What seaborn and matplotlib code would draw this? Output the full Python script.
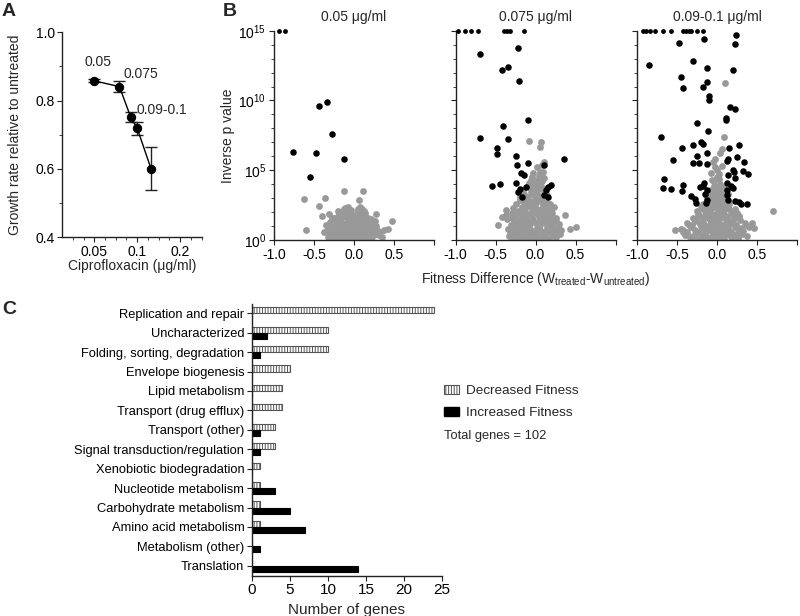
import numpy as np
import pandas as pd
import matplotlib
matplotlib.use("Agg")
import matplotlib.pyplot as plt
import seaborn as sns
from matplotlib.patches import Patch

# ---------------- data ----------------
# Panel A
conc = [0.05, 0.075, 0.09, 0.1, 0.125]
growth = [0.858, 0.841, 0.752, 0.719, 0.601]
growth_err = [0.004, 0.015, 0.016, 0.019, 0.064]
dose_labels = ["0.05", "0.075", "0.09-0.1"]
dose_label_x = [0.053, 0.0806, 0.0995]
dose_label_y = [0.913, 0.878, 0.772]

# Panel B (x = fitness difference, logp = log10 of inverse p value)
panel_titles = ["0.05 \u03bcg/ml", "0.075 \u03bcg/ml", "0.09-0.1 \u03bcg/ml"]

b1_top_x = [-0.94, -0.86]
b1_sig_x = [-0.44, -0.34, -0.27, -0.76, -0.47, -0.125, -0.55]
b1_sig_logp = [9.63, 9.88, 7.6, 6.29, 6.24, 5.79, 4.52]
b1_gray_x = [-0.13, 0.11, -0.63, -0.36, -0.44, 0.06, -0.60, 0.47, 0.28, -0.31, -0.40, 0.43, 0.38,
             -0.30, -0.24, -0.19, -0.15, -0.11, -0.08, -0.05, -0.02, 0.0, 0.02, 0.05, 0.08, 0.11, 0.14, 0.18, 0.22, 0.27,
             -0.37, -0.33, -0.28, -0.23, -0.20, -0.16, -0.12, -0.09, -0.06, -0.03, 0.03, 0.06, 0.10, 0.13, 0.16, 0.20, 0.24, 0.29, 0.33,
             -0.35, -0.30, -0.26, -0.21, -0.17, -0.14, -0.10, -0.07, -0.04, 0.04, 0.07, 0.10, 0.12, 0.15, 0.19, 0.23, 0.27,
             -0.27, -0.20, -0.16, -0.13, -0.10, -0.08, -0.05, 0.05, 0.08, 0.10, 0.13, 0.17, 0.21,
             -0.14, -0.11, -0.09, -0.07, 0.05, 0.07, 0.09, 0.12,
             -0.22, -0.18, -0.12, -0.06, -0.02, 0.02, 0.06, 0.09, 0.15, 0.18,
             -0.29, -0.25, -0.21, -0.17, -0.13, -0.09, -0.05, -0.01, 0.03, 0.07, 0.11, 0.15, 0.19, 0.23,
             -0.27, -0.23, -0.18, -0.14, -0.10, -0.06, -0.03, 0.0, 0.04, 0.08, 0.12, 0.16, 0.21, 0.25, 0.31,
             -0.12, -0.08, -0.04, 0.01, 0.06, 0.10, 0.14,
             -0.33, -0.31, -0.25, 0.26, 0.35, -0.20]
b1_gray_logp = [3.5, 3.5, 2.94, 3.0, 2.46, 2.85, 0.7, 1.36, 1.84, 1.84, 1.7, 0.77, 0.75,
                0.3, 0.2, 0.35, 0.15, 0.25, 0.1, 0.3, 0.05, 0.0, 0.12, 0.22, 0.3, 0.18, 0.27, 0.35, 0.2, 0.4,
                0.6, 0.85, 0.55, 0.75, 0.9, 0.6, 0.8, 0.7, 0.55, 0.65, 0.6, 0.75, 0.85, 0.55, 0.8, 0.65, 0.9, 0.7, 0.6,
                1.1, 1.3, 1.0, 1.2, 1.35, 1.05, 1.25, 1.4, 1.15, 1.1, 1.3, 1.2, 1.4, 1.05, 1.25, 1.15, 1.0,
                1.6, 1.75, 1.55, 1.85, 1.65, 1.9, 1.6, 1.7, 1.55, 1.85, 1.65, 1.6, 1.5,
                2.1, 2.3, 2.0, 2.4, 2.2, 2.35, 2.05, 2.1,
                0.45, 1.45, 0.95, 1.0, 0.4, 0.45, 1.0, 1.5, 0.45, 1.0,
                0.45, 0.9, 0.25, 1.1, 0.5, 1.6, 0.9, 0.6, 0.95, 0.15, 0.6, 1.15, 0.1, 0.75,
                0.15, 1.4, 0.7, 0.3, 2.0, 1.3, 1.8, 1.2, 1.95, 1.05, 0.5, 0.25, 0.95, 0.55, 0.35,
                2.25, 0.45, 2.15, 1.6, 1.45, 2.25, 1.9,
                0.25, 0.4, 1.55, 1.35, 0.25, 2.1]

b2_top_x = [-0.97, -0.88, -0.81, -0.72, -0.40, -0.36, -0.32, -0.15]
b2_sig_x = [-0.22, -0.70, -0.35, -0.425, -0.21, -0.10, -0.41, -0.70, -0.35, -0.48, -0.48, -0.24, -0.23, -0.10,
            -0.18, -0.14, 0.11, 0.35, -0.54, -0.44, -0.24, -0.125, -0.20, -0.225, -0.17, 0.19, 0.16, 0.125, 0.15, 0.10]
b2_sig_logp = [13.75, 13.34, 12.39, 12.2, 11.36, 8.6, 8.18, 7.32, 7.22, 6.62, 6.19, 6.05, 5.4, 5.5,
               4.78, 4.66, 5.38, 5.81, 3.9, 4.02, 4.11, 3.82, 3.63, 3.44, 3.1, 3.95, 3.78, 3.59, 3.1, 3.2]
b2_gray_x = [-0.33, -0.28, -0.24, -0.20, -0.16, -0.12, -0.08, -0.04, 0.0, 0.04, 0.08, 0.12, 0.16, 0.20, 0.25, 0.30,
             -0.35, -0.30, -0.26, -0.22, -0.18, -0.14, -0.10, -0.06, -0.02, 0.02, 0.06, 0.10, 0.14, 0.18, 0.22, 0.26, 0.32, 0.43, 0.50,
             -0.36, -0.31, -0.27, -0.23, -0.19, -0.15, -0.11, -0.07, -0.03, 0.01, 0.05, 0.09, 0.13, 0.17, 0.21, 0.25, 0.29,
             -0.42, -0.375, -0.30, -0.25, -0.20, -0.16, -0.12, -0.08, -0.04, 0.0, 0.04, 0.08, 0.12, 0.16, 0.20, 0.26, 0.37,
             -0.375, -0.28, -0.22, -0.17, -0.13, -0.09, -0.05, -0.01, 0.03, 0.07, 0.11, 0.15, 0.19, 0.23,
             -0.24, -0.19, -0.15, -0.11, -0.07, -0.03, 0.01, 0.05, 0.09, 0.13, 0.17,
             -0.20, -0.14, -0.10, -0.06, -0.02, 0.02, 0.06, 0.10, 0.14,
             -0.16, -0.09, -0.05, -0.01, 0.03, 0.07, 0.11,
             -0.08, -0.04, 0.0, 0.04, 0.08, 0.10,
             -0.03, 0.02, 0.05, 0.08, 0.10,
             -0.085, 0.07, 0.06, -0.475,
             -0.32, -0.27, -0.21, -0.17, -0.13, -0.09, -0.05, -0.01, 0.03, 0.07, 0.11, 0.15, 0.19, 0.23, 0.28,
             -0.29, -0.25, -0.20, -0.15, -0.11, -0.07, -0.03, 0.02, 0.06, 0.10, 0.14, 0.18, 0.22,
             -0.18, -0.12, -0.08, -0.04, 0.0, 0.04, 0.08, 0.12, 0.16,
             -0.06, -0.02, 0.03, 0.06, 0.09]
b2_gray_logp = [0.3, 0.15, 0.4, 0.2, 0.35, 0.1, 0.25, 0.05, 0.15, 0.3, 0.2, 0.4, 0.1, 0.3, 0.25, 0.45,
                0.79, 0.6, 0.85, 0.7, 0.55, 0.9, 0.65, 0.75, 0.6, 0.85, 0.7, 0.55, 0.9, 0.65, 0.8, 0.6, 0.7, 0.8, 0.95,
                1.48, 1.1, 1.3, 1.2, 1.45, 1.05, 1.35, 1.15, 1.4, 1.25, 1.1, 1.45, 1.2, 1.3, 1.05, 1.35, 1.15,
                1.65, 1.8, 1.6, 1.75, 1.9, 1.55, 1.7, 1.85, 1.6, 1.95, 1.65, 1.8, 1.55, 1.75, 1.9, 1.6, 1.79,
                2.15, 2.3, 2.05, 2.4, 2.2, 2.45, 2.1, 2.35, 2.0, 2.25, 2.4, 2.1, 2.3, 2.39,
                2.6, 2.85, 2.7, 2.95, 2.55, 2.8, 2.65, 2.9, 2.6, 2.75, 2.55,
                3.1, 3.3, 3.05, 3.45, 3.2, 3.4, 3.1, 3.35, 3.25,
                3.6, 3.85, 3.55, 3.95, 3.7, 3.9, 3.65,
                4.1, 4.5, 4.25, 4.6, 4.2, 4.45,
                4.8, 5.2, 4.9, 5.35, 5.57,
                7.1, 7.0, 6.7, 1.08,
                0.55, 1.0, 0.4, 1.25, 0.6, 1.0, 1.6, 0.45, 1.05, 1.55, 0.35, 0.6, 1.05, 0.4, 0.95,
                1.9, 0.05, 1.0, 2.05, 2.7, 0.45, 2.3, 3.0, 1.35, 2.05, 0.75, 2.55, 1.5,
                3.3, 2.45, 3.8, 2.6, 3.55, 1.85, 3.05, 2.75, 1.95,
                4.3, 4.0, 4.15, 3.75, 4.9]

b3_top_x = [-0.93, -0.89, -0.84, -0.78, -0.68, -0.57, -0.43, -0.39, -0.345, -0.32, -0.25, -0.17]
b3_sig_x = [0.24, -0.16, -0.47, 0.22, -0.85, -0.30, -0.13, 0.20, -0.45, -0.43, -0.12, -0.17, -0.10, -0.10,
            0.16, 0.23, 0.11, 0.11, -0.25, -0.11, -0.70, -0.44, -0.30, -0.20, -0.18, -0.25, -0.13, -0.30,
            -0.22, -0.12, -0.55, 0.15, 0.27, 0.25, 0.14, 0.12, 0.34, 0.20, 0.21, 0.14, 0.32, 0.39, -0.66,
            -0.68, -0.58, -0.43, -0.44, -0.325, -0.28, -0.26, -0.21, -0.17, -0.15, -0.13, -0.12, -0.14, -0.16,
            0.13, 0.13, 0.12, 0.14, 0.17, 0.20, 0.23, 0.27, 0.30, 0.37, 0.23]
b3_sig_logp = [14.7, 14.4, 14.1, 14.04, 12.55, 12.8, 12.36, 12.2, 11.7, 10.88, 11.3, 10.95, 10.33, 10.04,
               9.52, 9.42, 8.75, 8.59, 8.37, 7.84, 7.41, 6.58, 6.8, 7.0, 6.89, 6.03, 6.22, 5.5,
               5.5, 5.45, 5.74, 6.58, 6.81, 5.93, 5.8, 5.67, 5.62, 5.02, 4.9, 4.66, 4.97, 4.73, 4.37,
               3.71, 3.66, 3.92, 3.54, 3.16, 2.92, 2.68, 3.82, 3.9, 3.3, 3.6, 2.9, 2.65, 4.1,
               4.1, 3.6, 3.2, 2.9, 3.9, 3.7, 2.8, 2.75, 2.6, 2.6, 4.47]
b3_gray_x = [0.10, 0.09, 0.06, 0.04, -0.03, -0.07, 0.02, 0.70, 0.44, 0.46, -0.525, -0.43, -0.35, -0.05, 0.0,
             -0.40, -0.33, -0.28, -0.23, -0.19, -0.15, -0.11, -0.07, -0.03, 0.01, 0.05, 0.09, 0.13, 0.17, 0.21, 0.26, 0.31, 0.38,
             -0.45, -0.38, -0.32, -0.27, -0.22, -0.18, -0.14, -0.10, -0.06, -0.02, 0.02, 0.06, 0.10, 0.14, 0.18, 0.22, 0.27, 0.33, 0.40,
             -0.37, -0.31, -0.26, -0.21, -0.17, -0.13, -0.09, -0.05, -0.01, 0.03, 0.07, 0.11, 0.15, 0.19, 0.24, 0.29, 0.35,
             -0.30, -0.24, -0.19, -0.15, -0.11, -0.07, -0.03, 0.01, 0.05, 0.09, 0.13, 0.17, 0.22, 0.28,
             -0.25, -0.20, -0.15, -0.11, -0.07, -0.03, 0.01, 0.05, 0.09, 0.13, 0.18, 0.23,
             -0.18, -0.13, -0.09, -0.05, -0.01, 0.03, 0.07, 0.11, 0.15,
             -0.12, -0.07, -0.03, 0.01, 0.05, 0.09,
             -0.08, -0.04, 0.0, 0.04, 0.07, -0.06, 0.03,
             -0.42, -0.35, -0.30, -0.25, -0.20, -0.16, -0.12, -0.08, -0.04, 0.0, 0.04, 0.08, 0.12, 0.16, 0.20, 0.24, 0.30, 0.36,
             -0.28, -0.23, -0.18, -0.13, -0.09, -0.05, -0.01, 0.03, 0.07, 0.11, 0.15, 0.20, 0.25,
             -0.14, -0.10, -0.06, -0.02, 0.02, 0.06, 0.10, 0.14,
             -0.04, 0.0, 0.04, 0.06, -0.02]
b3_gray_logp = [11.24, 7.4, 6.5, 6.2, 5.26, 4.8, 4.7, 2.1, 1.24, 0.84, 0.72, 0.72, 0.3, 5.6, 5.0,
                0.35, 0.2, 0.45, 0.1, 0.3, 0.4, 0.15, 0.25, 0.05, 0.35, 0.2, 0.1, 0.4, 0.25, 0.3, 0.15, 0.45, 0.3,
                0.8, 0.6, 0.9, 0.7, 0.55, 0.85, 0.65, 0.95, 0.6, 0.75, 0.9, 0.55, 0.7, 0.85, 0.6, 0.95, 0.75, 0.65, 0.9,
                1.2, 1.05, 1.4, 1.15, 1.3, 1.0, 1.45, 1.1, 1.35, 1.25, 1.05, 1.4, 1.15, 1.3, 1.1, 1.45, 1.2,
                1.6, 1.85, 1.55, 1.75, 1.95, 1.65, 1.8, 1.55, 1.9, 1.7, 1.6, 1.85, 1.65, 1.75,
                2.1, 2.35, 2.05, 2.45, 2.2, 2.4, 2.0, 2.3, 2.15, 2.45, 2.1, 2.25,
                2.6, 2.85, 2.7, 2.95, 2.55, 2.8, 2.65, 2.9, 2.6,
                3.1, 3.4, 3.2, 3.45, 3.05, 3.3,
                3.6, 3.9, 3.7, 4.0, 3.8, 4.3, 4.4,
                0.55, 1.05, 0.25, 0.6, 1.0, 0.2, 0.75, 1.25, 0.45, 0.8, 1.55, 0.35, 0.95, 0.55, 1.25, 0.45, 0.85, 1.1,
                1.35, 1.8, 2.25, 1.65, 2.0, 2.55, 1.85, 2.6, 2.0, 1.75, 2.2, 1.45, 1.9,
                3.25, 2.5, 3.0, 3.65, 2.95, 3.55, 3.0, 3.3,
                4.2, 4.5, 3.5, 5.3, 5.8]
top_logp = 15

# Panel C
categories = ["Replication and repair", "Uncharacterized", "Folding, sorting, degradation",
              "Envelope biogenesis", "Lipid metabolism", "Transport (drug efflux)", "Transport (other)",
              "Signal transduction/regulation", "Xenobiotic biodegradation", "Nucleotide metabolism",
              "Carbohydrate metabolism", "Amino acid metabolism", "Metabolism (other)", "Translation"]
decreased = [24, 10, 10, 5, 4, 4, 3, 3, 1, 1, 1, 1, 0, 0]
increased = [0, 2, 1, 0, 0, 0, 1, 1, 0, 3, 5, 7, 1, 14]
series_names = ["Decreased Fitness", "Increased Fitness"]
total_text = "Total genes = 102"

# ---------------- style ----------------
sns.set_style("ticks")
plt.rcParams["font.family"] = ["Liberation Sans", "DejaVu Sans"]
plt.rcParams["mathtext.fontset"] = "custom"
plt.rcParams["mathtext.rm"] = "Liberation Sans"
plt.rcParams["mathtext.it"] = "Liberation Sans:italic"
plt.rcParams["axes.unicode_minus"] = False
plt.rcParams["axes.linewidth"] = 1.0
plt.rcParams["axes.edgecolor"] = "#222222"
plt.rcParams["xtick.color"] = "#222222"
plt.rcParams["ytick.color"] = "#222222"
plt.rcParams["xtick.labelcolor"] = "black"
plt.rcParams["ytick.labelcolor"] = "black"
plt.rcParams["xtick.major.size"] = 3.5
plt.rcParams["ytick.major.size"] = 3.5
plt.rcParams["xtick.minor.size"] = 2
plt.rcParams["ytick.minor.size"] = 2
plt.rcParams["xtick.major.pad"] = 2
plt.rcParams["ytick.major.pad"] = 2
plt.rcParams["hatch.linewidth"] = 0.7

FS = 10
W, H = 800, 616
fig = plt.figure(figsize=(8, 6.16), dpi=100)


def rect(l, t, r, b):
    return [l / W, 1 - b / H, (r - l) / W, (b - t) / H]


# ---------------- Panel A ----------------
axA = fig.add_axes(rect(62.3, 32.3, 202, 237.3))
sns.lineplot(x=conc, y=growth, ax=axA, color="black", linewidth=1, marker="o",
             markersize=6, markeredgecolor="black", zorder=3)
axA.errorbar(conc, growth, yerr=growth_err, fmt="none", ecolor="#222222",
             elinewidth=1, capsize=4, capthick=1, zorder=2)
axA.set_xscale("log")
axA.set_xlim(0.0298, 0.285)
axA.set_ylim(0.4, 1.0)
axA.set_xticks([0.05, 0.1, 0.2])
axA.set_xticklabels(["0.05", "0.1", "0.2"])
minorA = [0.05 * 2 ** (k / 4) for k in range(-3, 11) if k % 4 != 0]
axA.set_xticks([m for m in minorA if 0.0298 < m < 0.285], minor=True)
axA.xaxis.set_minor_formatter(plt.NullFormatter())
axA.set_yticks([0.4, 0.6, 0.8, 1.0])
axA.set_yticklabels(["0.4", "0.6", "0.8", "1.0"])
axA.set_yticks([0.5, 0.7, 0.9], minor=True)
axA.tick_params(labelsize=FS)
for lab, lx, ly in zip(dose_labels, dose_label_x, dose_label_y):
    axA.text(lx, ly, lab, fontsize=FS, ha="center" if lab == "0.05" else "left", va="center")
axA.set_ylabel("Growth rate relative to untreated", fontsize=FS)
axA.set_xlabel("Ciprofloxacin (\u03bcg/ml)", fontsize=FS)
axA.yaxis.set_label_coords(-0.285, 0.5)
axA.xaxis.set_label_coords(0.5, -0.105)
sns.despine(ax=axA)

# ---------------- Panel B ----------------
b_sets = [(b1_top_x, b1_sig_x, b1_sig_logp, b1_gray_x, b1_gray_logp),
          (b2_top_x, b2_sig_x, b2_sig_logp, b2_gray_x, b2_gray_logp),
          (b3_top_x, b3_sig_x, b3_sig_logp, b3_gray_x, b3_gray_logp)]
axB = []
for i, (left, (tx, sx, sl, gx, gl)) in enumerate(zip([274, 455.5, 637], b_sets)):
    ax = fig.add_axes(rect(left, 30.7, left + 160, 240))
    axB.append(ax)
    gdf = pd.DataFrame({"x": gx, "p": 10.0 ** np.array(gl)})
    sdf = pd.DataFrame({"x": sx, "p": 10.0 ** np.array(sl)})
    tdf = pd.DataFrame({"x": tx, "p": [10.0 ** top_logp] * len(tx)})
    sns.scatterplot(data=gdf, x="x", y="p", ax=ax, color="#999999", s=24, linewidth=0, zorder=2)
    sns.scatterplot(data=sdf, x="x", y="p", ax=ax, color="black", s=22, linewidth=0, zorder=3)
    sns.scatterplot(data=tdf, x="x", y="p", ax=ax, color="black", s=12, linewidth=0, zorder=3, clip_on=False)
    ax.set_yscale("log")
    ax.set_ylim(1, 1e15)
    ax.set_xlim(-1, 1)
    ax.set_yticks([1, 1e5, 1e10, 1e15])
    ax.set_yticks([10.0 ** k for k in range(16) if k % 5 != 0], minor=True)
    ax.yaxis.set_minor_formatter(plt.NullFormatter())
    ax.set_xticks([-1, -0.5, 0, 0.5, 1])
    ax.set_xticklabels(["-1.0", "-0.5", "0.0", "0.5", ""])
    ax.tick_params(labelsize=FS)
    if i > 0:
        ax.set_yticklabels([])
        ax.set_ylabel("")
    else:
        ax.set_yticklabels([r"$\mathdefault{10^{0}}$", r"$\mathdefault{10^{5}}$",
                            r"$\mathdefault{10^{10}}$", r"$\mathdefault{10^{15}}$"])
        ax.set_ylabel("Inverse p value", fontsize=FS)
        ax.yaxis.set_label_coords(-0.245, 0.5)
    ax.set_xlabel("")
    ax.set_title(panel_titles[i], fontsize=FS, pad=7)
    sns.despine(ax=ax)

axB[1].set_xlabel(r"Fitness Difference (W$_{\mathregular{treated}}$-W$_{\mathregular{untreated}}$)", fontsize=FS)
axB[1].xaxis.set_label_coords(0.5, -0.145)

# ---------------- Panel C ----------------
axC = fig.add_axes(rect(252, 303.5, 442, 575.5))
cdf = pd.DataFrame({
    "category": categories * 2,
    "count": decreased + increased,
    "type": [series_names[0]] * len(categories) + [series_names[1]] * len(categories),
})
sns.barplot(data=cdf, x="count", y="category", hue="type", hue_order=series_names,
            orient="h", width=0.62, palette=["white", "black"], ax=axC, legend=False)
for bar in axC.containers[0]:
    bar.set_facecolor("white")
    bar.set_edgecolor("#555555")
    bar.set_hatch("||||||")
    bar.set_linewidth(0.8)
for bar in axC.containers[1]:
    bar.set_facecolor("black")
    bar.set_edgecolor("black")
    bar.set_linewidth(0.8)
axC.set_xlim(0, 25)
axC.set_xticks([0, 5, 10, 15, 20, 25])
axC.tick_params(axis="x", labelsize=FS + 1)
axC.tick_params(axis="y", labelsize=9.3)
axC.set_ylabel("")
axC.set_xlabel("Number of genes", fontsize=FS + 1)
sns.despine(ax=axC)

handles = [Patch(facecolor="white", edgecolor="#555555", hatch="||||||", linewidth=0.8),
           Patch(facecolor="black", edgecolor="black")]
fig.legend(handles, series_names, loc="upper left", bbox_to_anchor=(444 / W, 1 - 385 / H),
           frameon=False, fontsize=9.7, handlelength=1.1, handleheight=0.7,
           handletextpad=0.55, labelspacing=0.7, borderpad=0, borderaxespad=0)
fig.text(444 / W, 1 - 436 / H, total_text, fontsize=9.3, va="center", ha="left")

# panel letters
for letter, (px, py) in zip("ABC", [(9, 12), (230, 12), (9, 310)]):
    fig.text(px / W, 1 - py / H, letter, fontsize=14, fontweight="bold", ha="center", va="center")

fig.savefig("out.png", dpi=100)
